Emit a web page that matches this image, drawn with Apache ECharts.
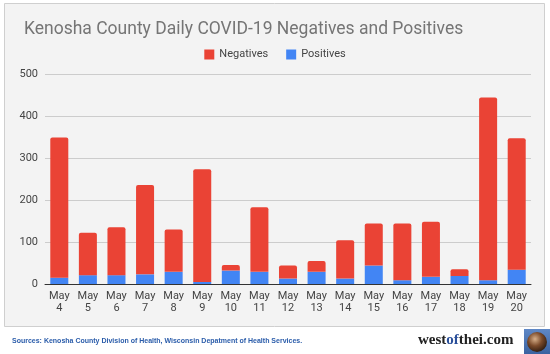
<!DOCTYPE html>
<html><head><meta charset="utf-8">
<script src="https://cdn.jsdelivr.net/npm/echarts@6/dist/echarts.min.js"></script>
<style>html,body{margin:0;padding:0;background:#fff}#c{width:550px;height:354px}</style>
</head><body><div id="c"></div>
<script>
const categories = ['May\n4','May\n5','May\n6','May\n7','May\n8','May\n9','May\n10','May\n11','May\n12','May\n13','May\n14','May\n15','May\n16','May\n17','May\n18','May\n19','May\n20'];
const negatives = [334,101,114,213,101,268,13,154,31,26,91,100,135,131,16,435,313];
const positives = [15,21,21,23,29,5,32,29,13,29,13,44,9,17,19,9,34];
const yTicks = [0,100,200,300,400,500];

const chart = echarts.init(document.getElementById('c'), null, {renderer:'canvas'});
chart.setOption({
  animation:false,
  backgroundColor:'#ffffff',
  graphic:[
    {type:'rect', z:-10, shape:{x:4.5,y:3.5,width:540,height:323}, style:{fill:'#f3f3f3', stroke:'#cfcfcf', lineWidth:1}},
    {type:'text', left:12, top:338, style:{text:'Sources: Kenosha County Division of Health, Wisconsin Depatment of Health Services.', font:'bold 7px "Liberation Sans", Arial', fill:'#2a5caa'}},
    {type:'text', left:418, top:333, style:{rich:{a:{font:'bold 15px "Liberation Serif", serif', fill:'#222'}, b:{font:'bold 15px "Liberation Serif", serif', fill:'#2a4f9a'}}, text:'{a|west}{b|of}{a|thei.com}'}},
    {type:'rect', shape:{x:524,y:329,width:26,height:25}, style:{fill:new echarts.graphic.LinearGradient(0,0,0,1,[{offset:0,color:'#5f88c6'},{offset:1,color:'#3a62a0'}])}},
    {type:'circle', shape:{cx:537,cy:342,r:10}, style:{fill:new echarts.graphic.RadialGradient(0.4,0.35,0.7,[{offset:0,color:'#d8b08a'},{offset:0.5,color:'#7a4a2a'},{offset:1,color:'#2a1a10'}])}}
  ],
  title:{text:'Kenosha County Daily COVID-19 Negatives and Positives', left:19, top:16,
    textStyle:{fontFamily:'Roboto, Arial', fontSize:17.5, fontWeight:'normal', color:'#757575'}},
  legend:{data:['Negatives','Positives'], top:44, left:'center', itemWidth:10, itemHeight:10, itemGap:18,
    icon:'rect', textStyle:{fontFamily:'Roboto, Arial', fontSize:11, color:'#444'}},
  grid:{left:45, right:19, top:74, bottom:70, containLabel:false},
  xAxis:{type:'category', data:categories,
    axisLine:{lineStyle:{color:'#333', width:1}}, axisTick:{show:false},
    axisLabel:{interval:0, fontFamily:'Roboto, Arial', fontSize:11, color:'#444', lineHeight:12, margin:6}},
  yAxis:{type:'value', min:yTicks[0], max:yTicks[yTicks.length-1], interval:100,
    axisLine:{show:false}, axisTick:{show:false},
    splitLine:{lineStyle:{color:'#cccccc', width:1}},
    axisLabel:{fontFamily:'Roboto, Arial', fontSize:11, color:'#444', margin:7}},
  series:[
    {name:'Positives', type:'bar', stack:'t', data:positives, barWidth:'63%', itemStyle:{color:'#4285f4'}},
    {name:'Negatives', type:'bar', stack:'t', data:negatives, barWidth:'63%', itemStyle:{color:'#ea4335', borderRadius:[2,2,0,0]}}
  ]
});
</script></body></html>
